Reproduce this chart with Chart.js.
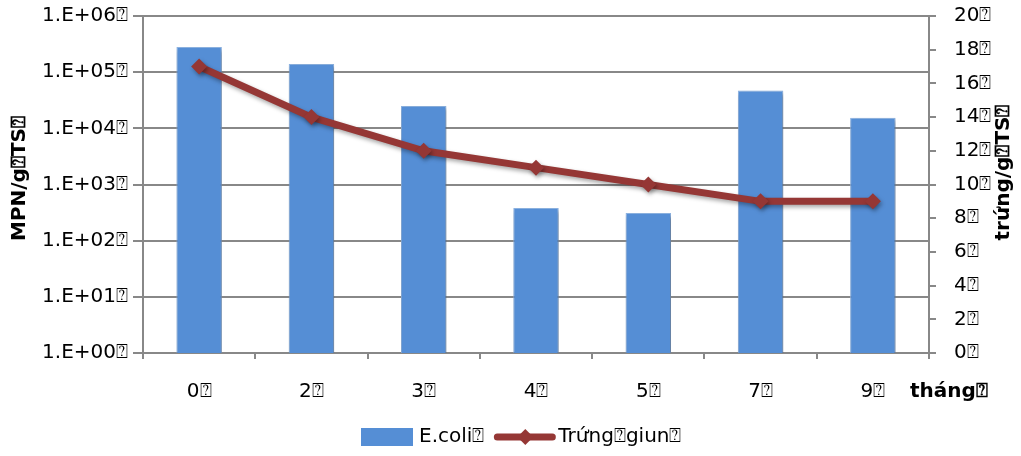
<!DOCTYPE html>
<html>
<head>
<meta charset="utf-8">
<script src="https://cdn.jsdelivr.net/npm/chart.js@4.4.1/dist/chart.umd.min.js"></script>
<style>
  html, body { margin: 0; padding: 0; background: #ffffff; }
  #wrap { width: 1021px; height: 456px; position: relative; }
</style>
</head>
<body>
<div id="wrap"><canvas id="c" width="1021" height="456"></canvas></div>
<script>
// Months after start of treatment
const months = ['0', '2', '3', '4', '5', '7', '9'];
// E. coli, MPN per g TS (log scale)
const ecoli = [2.8e5, 1.4e5, 2.5e4, 3.8e2, 3.1e2, 4.7e4, 1.55e4];
// Helminth eggs per g TS
const eggs = [17, 14, 12, 11, 10, 9, 9];
// Axis ticks
const logTicks = [1, 10, 100, 1000, 10000, 100000, 1000000];
const eggTicks = [0, 2, 4, 6, 8, 10, 12, 14, 16, 18, 20];

const tail = '\u2370';
const seriesNames = ['E.coli' + tail, 'Tr\u1EE9ng' + tail + 'giun' + tail];
const leftTitle = 'MPN/g' + tail + 'TS' + tail;
const rightTitle = 'tr\u1EE9ng/g' + tail + 'TS' + tail;
const xTitle = 'th\u00E1ng' + tail;

const FONT = '"DejaVu Sans", sans-serif';
const AXIS_GRAY = '#888888';
const BAR_BLUE = '#558ED5';
const LINE_RED = '#953735';

function sci(v) {
  const e = Math.round(Math.log10(v));
  return '1.E+' + String(e).padStart(2, '0') + tail;
}

// Fixed-size vertical axes; no extra room reserved above or below the plot
function fixVertical(width) {
  return scale => {
    scale.width = width;
    scale.paddingTop = 0;
    scale.paddingBottom = 0;
  };
}

// Soft drop shadow under bars and line
const shadowPlugin = {
  id: 'shadow',
  beforeDatasetDraw(chart) {
    const ctx = chart.ctx;
    ctx.save();
    ctx.shadowColor = 'rgba(0,0,0,0.35)';
    ctx.shadowBlur = 4;
    ctx.shadowOffsetX = 1.5;
    ctx.shadowOffsetY = 2.5;
  },
  afterDatasetDraw(chart) {
    chart.ctx.restore();
  }
};

// Axis titles and legend
const decorPlugin = {
  id: 'decor',
  afterDraw(chart) {
    const ctx = chart.ctx;
    const area = chart.chartArea;
    ctx.save();
    ctx.fillStyle = '#000000';
    ctx.font = 'bold 20px ' + FONT;
    ctx.textAlign = 'center';
    ctx.textBaseline = 'middle';

    ctx.save();
    ctx.translate(20, (area.top + area.bottom) / 2 - 6);
    ctx.rotate(-Math.PI / 2);
    ctx.fillText(leftTitle, 0, 0);
    ctx.restore();

    ctx.save();
    ctx.translate(1004, (area.top + area.bottom) / 2 - 12);
    ctx.rotate(-Math.PI / 2);
    ctx.fillText(rightTitle, 0, 0);
    ctx.restore();

    ctx.textAlign = 'left';
    ctx.fillText(xTitle, 910, 392);

    // legend
    const ly = 437;
    ctx.font = '20px ' + FONT;
    let x = 361;
    ctx.fillStyle = BAR_BLUE;
    ctx.fillRect(x, ly - 9, 52, 18);
    x += 58;
    ctx.fillStyle = '#000000';
    ctx.fillText(seriesNames[0], x, ly);
    x += ctx.measureText(seriesNames[0]).width + 10;

    ctx.strokeStyle = LINE_RED;
    ctx.lineWidth = 7;
    ctx.lineCap = 'round';
    ctx.beginPath();
    ctx.moveTo(x + 3, ly);
    ctx.lineTo(x + 58, ly);
    ctx.stroke();
    ctx.fillStyle = LINE_RED;
    ctx.beginPath();
    const mx = x + 31, r = 8;
    ctx.moveTo(mx, ly - r);
    ctx.lineTo(mx + r, ly);
    ctx.lineTo(mx, ly + r);
    ctx.lineTo(mx - r, ly);
    ctx.closePath();
    ctx.fill();
    x += 64;
    ctx.fillStyle = '#000000';
    ctx.fillText(seriesNames[1], x, ly);
    ctx.restore();
  }
};

new Chart(document.getElementById('c'), {
  data: {
    labels: months,
    datasets: [
      {
        type: 'line',
        label: seriesNames[1],
        data: eggs,
        yAxisID: 'y1',
        borderColor: LINE_RED,
        backgroundColor: LINE_RED,
        borderWidth: 7,
        pointStyle: 'rectRot',
        pointRadius: 8,
        pointBorderWidth: 0,
        pointBackgroundColor: LINE_RED,
        tension: 0,
        order: 0
      },
      {
        type: 'bar',
        label: seriesNames[0],
        data: ecoli,
        yAxisID: 'y',
        backgroundColor: BAR_BLUE,
        borderColor: '#8DB3E2',
        borderWidth: 1,
        categoryPercentage: 1,
        barPercentage: 0.405,
        order: 1
      }
    ]
  },
  options: {
    responsive: false,
    animation: false,
    layout: { autoPadding: false, padding: { top: 16, left: 0, right: 0, bottom: 0 } },
    plugins: {
      legend: { display: false },
      tooltip: { enabled: false }
    },
    scales: {
      x: {
        offset: true,
        grid: {
          offset: true,
          drawOnChartArea: false,
          drawTicks: true,
          tickLength: 6,
          color: AXIS_GRAY,
          lineWidth: 2
        },
        border: { display: true, color: AXIS_GRAY, width: 2 },
        ticks: {
          padding: 21,
          color: '#000000',
          font: { family: FONT, size: 20 },
          callback: (v, i) => months[i] + tail
        },
        afterFit(scale) { scale.height = 103; }
      },
      y: {
        type: 'logarithmic',
        position: 'left',
        min: 1,
        max: 1e6,
        afterBuildTicks(scale) {
          scale.ticks = logTicks.map(v => ({ value: v, major: true }));
        },
        grid: {
          color: AXIS_GRAY,
          lineWidth: 2,
          drawTicks: true,
          tickLength: 10
        },
        border: { display: true, color: AXIS_GRAY, width: 2 },
        ticks: {
          padding: 5,
          color: '#000000',
          font: { family: FONT, size: 20 },
          callback: v => sci(v)
        },
        afterFit: fixVertical(143)
      },
      y1: {
        type: 'linear',
        position: 'right',
        min: 0,
        max: 20,
        afterBuildTicks(scale) {
          scale.ticks = eggTicks.map(v => ({ value: v }));
        },
        grid: {
          drawOnChartArea: false,
          color: AXIS_GRAY,
          lineWidth: 2,
          drawTicks: true,
          tickLength: 7
        },
        border: { display: true, color: AXIS_GRAY, width: 2 },
        ticks: {
          padding: 18,
          color: '#000000',
          font: { family: FONT, size: 20 },
          callback: v => v + tail
        },
        afterFit: fixVertical(92)
      }
    }
  },
  plugins: [shadowPlugin, decorPlugin]
});
</script>
</body>
</html>
